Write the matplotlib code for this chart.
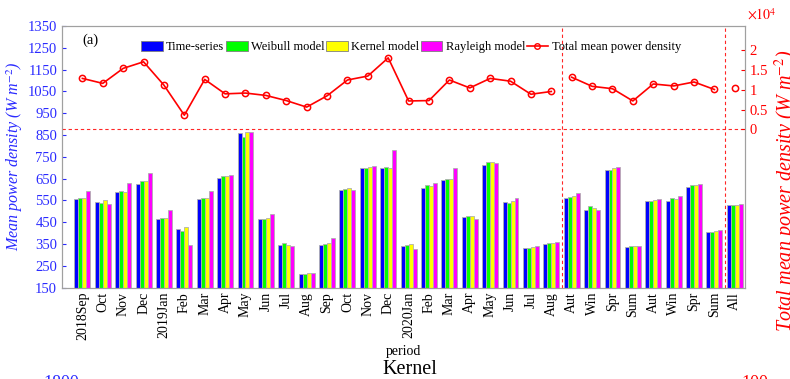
import matplotlib
matplotlib.use("Agg")
import matplotlib.pyplot as plt
from matplotlib.patches import Patch
from matplotlib.lines import Line2D
import numpy as np

plt.rcParams['font.family'] = ['Liberation Serif', 'DejaVu Serif']
plt.rcParams['mathtext.fontset'] = 'stix'

periods = ["2018Sep", "Oct", "Nov", "Dec", "2019Jan", "Feb", "Mar", "Apr", "May",
           "Jun", "Jul", "Aug", "Sep", "Oct", "Nov", "Dec", "2020Jan", "Feb", "Mar",
           "Apr", "May", "Jun", "Jul", "Aug", "Aut", "Win", "Spr", "Sum",
           "Aut", "Win", "Spr", "Sum", "All"]

time_series = [557, 542, 589, 626, 466, 420, 556, 655, 861, 463, 344, 213,
               347, 598, 698, 699, 343, 605, 644, 475, 713, 542, 333, 350,
               563, 507, 690, 338, 548, 548, 612, 406, 528]
weibull = [560, 537, 592, 637, 469, 412, 562, 662, 841, 463, 353, 215,
           351, 601, 698, 702, 347, 620, 649, 481, 725, 537, 333, 356,
           565, 524, 690, 339, 547, 563, 620, 406, 530]
kernel = [560, 554, 589, 637, 469, 428, 562, 662, 864, 469, 345, 216,
          355, 606, 705, 698, 351, 615, 649, 480, 725, 547, 338, 356,
          569, 515, 699, 339, 551, 556, 620, 409, 530]
rayleigh = [592, 533, 630, 675, 504, 347, 592, 667, 865, 490, 339, 219,
            379, 596, 707, 781, 328, 630, 698, 463, 722, 562, 342, 359,
            583, 507, 705, 339, 556, 569, 626, 415, 533]

# total mean power density (W m^-2), monthly, seasonal and overall
total_monthly = [12900, 11650, 15440, 17100, 11200, 3600, 12650, 9000, 9200,
                 8600, 7300, 5650, 8500, 12500, 13500, 18100, 7200, 7300,
                 12500, 10500, 12900, 12200, 8900, 9600]
total_seasonal = [13200, 10900, 10300, 7200, 11500, 11000, 12000, 10100]
total_all = [10600]

x = np.arange(1, len(periods) + 1)
x_month = x[:24]
x_season = x[24:32]
x_all = x[32:]

fig = plt.figure(figsize=(7.9, 3.79), dpi=100)
ax = fig.add_axes([62 / 790, 1 - 287.7 / 379, (745 - 62) / 790, (287.7 - 26) / 379])
ax2 = ax.twinx()

colors = ['#0000ff', '#00ff00', '#ffff00', '#ff00ff']
series = [time_series, weibull, kernel, rayleigh]
names = ['Time-series', 'Weibull model', 'Kernel model', 'Rayleigh model']
w = 0.195
for i, (vals, c) in enumerate(zip(series, colors)):
    ax.bar(x + (i - 1.5) * w, np.array(vals) - 150, bottom=150, width=w,
           color=c, edgecolor='#b0b0b0', linewidth=0.6, zorder=2)

ax.set_xlim(0, 33.5)
ax.set_ylim(150, 1350)
ax.set_yticks(np.arange(150, 1351, 100))
ax.set_xticks(x)
ax.set_xticklabels(periods, rotation=90, fontsize=10)
ax.tick_params(axis='y', colors='#2a2aff', labelsize=10.5, direction='in', length=3)
ax.tick_params(axis='x', direction='in', length=0, pad=3)
ax.set_ylabel('Mean power density (W m$^{-2}$)', color='#2a2aff', fontsize=11.5,
              style='italic', labelpad=2)
ax.set_xlabel('period', fontsize=10, labelpad=3)

for sp in ax.spines.values():
    sp.set_color('#a0a0a0')
for sp in ax2.spines.values():
    sp.set_color('#a0a0a0')

ax2.set_ylim(-40000, 26150)
ax2.set_yticks([0, 5000, 10000, 15000, 20000])
ax2.set_yticklabels(['0', '0.5', '1', '1.5', '2'])
ax2.tick_params(axis='y', colors='red', labelsize=10.5, direction='in', length=3)
ax2.set_ylabel('Total mean power density (W m$^{-2}$)', color='red', fontsize=14.5,
               style='italic')
ax2.yaxis.set_label_coords(1.041, 0.37)

line_kw = dict(color='red', lw=1.2, marker='o', ms=4.5, mfc='none', mew=1.1, zorder=3)
ax2.plot(x_month, total_monthly, **line_kw)
ax2.plot(x_season, total_seasonal, **line_kw)
ax2.plot(x_all, total_all, **line_kw)

ax2.axhline(0, color='red', ls=(0, (3, 2.5)), lw=0.8, alpha=0.85)
for xv in (24.5, 32.5):
    ax2.axvline(xv, color='red', ls=(0, (3, 2.5)), lw=0.8, alpha=0.85)

fig.text(747 / 790, 1 - 15 / 379, r'$\times10^{4}$', color='red', fontsize=10,
         ha='left', va='center')
ax.text(0.03, 0.945, '(a)', transform=ax.transAxes, fontsize=10.5, va='center')

handles = [Patch(facecolor=c, edgecolor='#808080', linewidth=0.6) for c in colors]
handles.append(Line2D([], [], color='red', lw=1.2, marker='o', ms=4, mfc='none'))
labels = names + ['Total mean power density']
ax2.legend(handles, labels, ncol=5, frameon=False, fontsize=9,
           loc='center left', bbox_to_anchor=(141 / 790, 1 - 47 / 379),
           bbox_transform=fig.transFigure, handlelength=1.75, handleheight=0.8,
           handletextpad=0.25, columnspacing=0.12, borderpad=0, borderaxespad=0)

# top of the next panel, clipped by the figure edge
fig.text(410 / 790, 1 - 370 / 379, 'Kernel', fontsize=14.5, ha='center', va='center')
fig.text(61 / 790, 1 - 384 / 379, '1800', fontsize=13, color='#2a2aff',
         ha='center', va='center')
fig.text(755 / 790, 1 - 384 / 379, '100', fontsize=13, color='red',
         ha='center', va='center')

fig.savefig('out.png', dpi=100)
